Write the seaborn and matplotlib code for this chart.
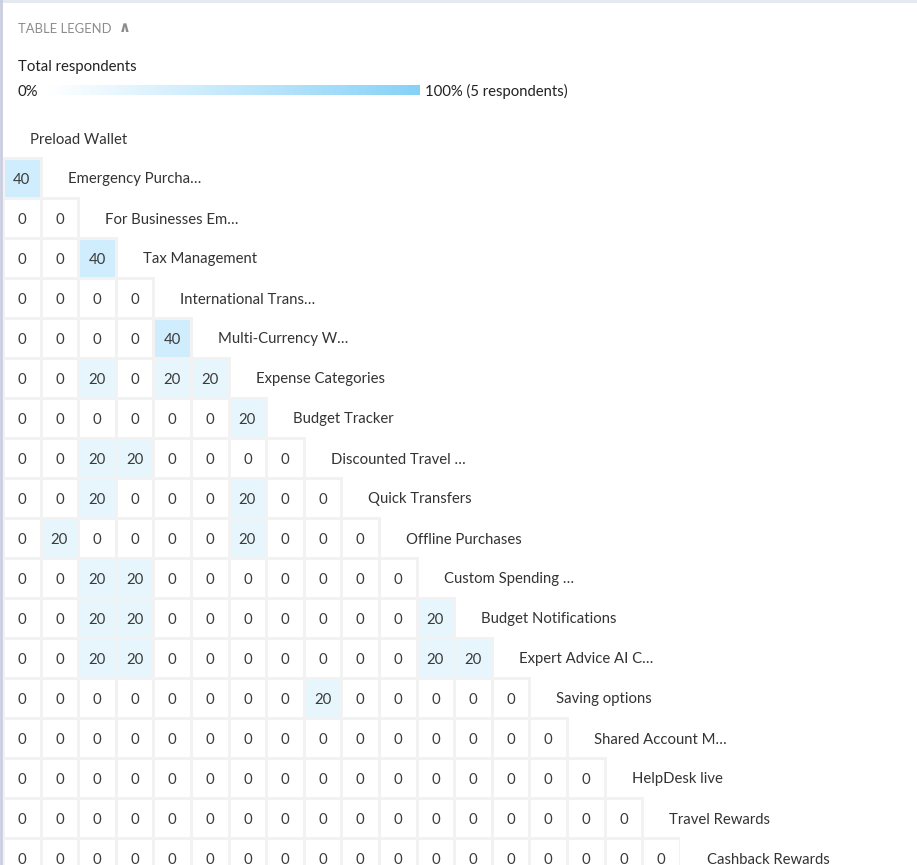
import numpy as np
import matplotlib.pyplot as plt
import seaborn as sns
from matplotlib.colors import LinearSegmentedColormap, to_rgba
from matplotlib.lines import Line2D

# DATA
features = ["Preload Wallet", "Emergency Purcha…", "For Businesses Em…", "Tax Management",
            "International Trans…", "Multi-Currency W…", "Expense Categories", "Budget Tracker",
            "Discounted Travel …", "Quick Transfers", "Offline Purchases", "Custom Spending …",
            "Budget Notifications", "Expert Advice AI C…", "Saving options", "Shared Account M…",
            "HelpDesk live", "Travel Rewards", "Cashback Rewards"]

# % of respondents who picked both features (lower triangle, one list per row)
pair_pct = [
    [],
    [40],
    [0, 0],
    [0, 0, 40],
    [0, 0, 0, 0],
    [0, 0, 0, 0, 40],
    [0, 0, 20, 0, 20, 20],
    [0, 0, 0, 0, 0, 0, 20],
    [0, 0, 20, 20, 0, 0, 0, 0],
    [0, 0, 20, 0, 0, 0, 20, 0, 0],
    [0, 20, 0, 0, 0, 0, 20, 0, 0, 0],
    [0, 0, 20, 20, 0, 0, 0, 0, 0, 0, 0],
    [0, 0, 20, 20, 0, 0, 0, 0, 0, 0, 0, 20],
    [0, 0, 20, 20, 0, 0, 0, 0, 0, 0, 0, 20, 20],
    [0, 0, 0, 0, 0, 0, 0, 0, 20, 0, 0, 0, 0, 0],
    [0] * 15,
    [0] * 16,
    [0] * 17,
    [0] * 18,
]
total_respondents = 5

# build the matrix
n_rows = len(features)
n_cols = n_rows - 1
mat = np.full((n_rows, n_cols), np.nan)
for i, row in enumerate(pair_pct):
    mat[i, :len(row)] = row
mask = np.isnan(mat)

# STYLE
sns.set_theme(style="white")
plt.rcParams['font.family'] = ['Lato', 'DejaVu Sans']
FS = 10.7

W, H = 917, 865
fig = plt.figure(figsize=(W / 100, H / 100), dpi=100)

cell_w, cell_h = 37.6, 40
top = 118
ax = fig.add_axes([3 / W, (H - top - n_rows * cell_h) / H, n_cols * cell_w / W, n_rows * cell_h / H])
cax = fig.add_axes([45 / W, (H - 95) / H, 375 / W, 10 / H])

cmap = LinearSegmentedColormap.from_list("resp", ["#ffffff", "#86d1f7"])
sns.heatmap(mat, mask=mask, ax=ax, cmap=cmap, vmin=0, vmax=100,
            annot=True, fmt=".0f",
            annot_kws={"fontsize": FS, "color": "#3a3a3a", "va": "center_baseline"},
            linewidths=2, linecolor="#f2f2f2",
            xticklabels=False, yticklabels=False,
            cbar_ax=cax, cbar_kws={"orientation": "horizontal"})

# hide the cell borders of the masked (upper) part
mesh = ax.collections[0]
edge = np.where(mask.ravel()[:, None], np.array([[0, 0, 0, 0]]), np.array([to_rgba("#f2f2f2")]))
mesh.set_edgecolors(edge)

cbar = mesh.colorbar
cbar.outline.set_visible(False)
cax.set_xticks([])
cax.tick_params(size=0)

# feature names on the diagonal
for i, name in enumerate(features):
    ax.text(i + 0.72, i + 0.5, name, ha="left", va="center_baseline", fontsize=FS, color="#333333")

# --- LEGEND HEADER ---
fig.text(18 / W, 1 - 28 / H, "TABLE LEGEND", ha="left", va="center_baseline", fontsize=9.4, color="#8c8c8c")
fig.text(119 / W, 1 - 28 / H, "∧", ha="left", va="center", fontsize=10.5, fontweight="bold",
         color="#8c8c8c", family="DejaVu Sans")
fig.text(18 / W, 1 - 65 / H, "Total respondents", ha="left", va="center_baseline", fontsize=FS, color="#222222")
fig.text(18 / W, 1 - 90 / H, "0%", ha="left", va="center_baseline", fontsize=FS, color="#222222")
fig.text(425 / W, 1 - 90 / H, f"100% ({total_respondents} respondents)", ha="left",
         va="center_baseline", fontsize=FS, color="#222222")

# panel borders
fig.add_artist(Line2D([0, 1], [1 - 1 / H, 1 - 1 / H], color="#e4e8f0", lw=2))
fig.add_artist(Line2D([1 / W, 1 / W], [0, 1], color="#c9cde0", lw=2))

fig.savefig("out.png", dpi=100)
